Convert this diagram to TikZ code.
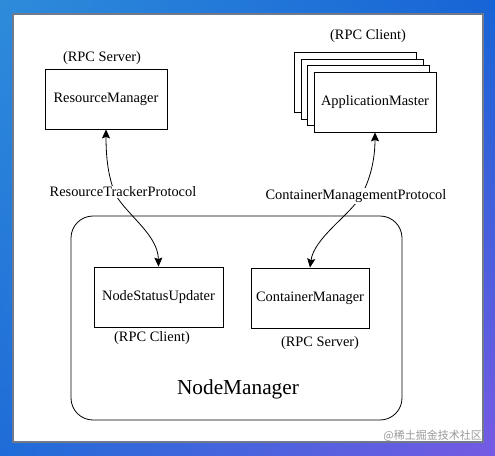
\documentclass[tikz,border=0pt]{standalone}
\usepackage{fontspec}
\setmainfont{Liberation Serif}
\newfontfamily\cjk{Noto Sans CJK SC}
\usetikzlibrary{arrows.meta,shadings}
\definecolor{bgtl}{RGB}{46,139,218}
\definecolor{bgtr}{RGB}{22,100,214}
\definecolor{bgbl}{RGB}{30,108,216}
\definecolor{bgbr}{RGB}{118,90,228}
\definecolor{panelrim}{RGB}{112,122,138}
\tikzset{
  boxnode/.style={draw=black, line width=0.8pt, fill=white, minimum height=60pt, inner sep=0pt,
    font=\fontsize{14.4}{17}\selectfont},
  lbl/.style={font=\fontsize{14.4}{17}\selectfont, inner sep=1pt},
  conn/.style={line width=0.8pt, {Stealth[length=9pt,width=8pt,inset=1.5pt]}-{Stealth[length=9pt,width=8pt,inset=1.5pt]}},
}
\begin{document}
\begin{tikzpicture}[x=1pt,y=-1pt]
\useasboundingbox (0,0) rectangle (495,455);
\shade[upper left=bgtl, upper right=bgtr, lower left=bgbl, lower right=bgbr] (0,0) rectangle (495,455);
\draw[draw=panelrim, line width=1.6pt, fill=white] (13,14) rectangle (483,442);
% NodeManager
\draw[line width=0.8pt, rounded corners=22pt] (71,216) rectangle (402,420);
\node[font=\fontsize{21.3}{25}\selectfont, inner sep=0pt] (nm) at (238,389) {NodeManager};
% ResourceManager
\node[boxnode, minimum width=122pt] (rm) at (106,99) {ResourceManager};
\node[lbl] (rmlab) at (102,58) {(RPC Server)};
% ApplicationMaster stack
\node[boxnode, minimum width=122pt] (am3) at (355.5,82.5) {};
\node[boxnode, minimum width=122pt] (am2) at (362,89) {};
\node[boxnode, minimum width=122pt] (am1) at (368.5,95.5) {};
\node[boxnode, minimum width=122pt] (am) at (375,102) {ApplicationMaster};
\node[lbl] (amlab) at (368,36) {(RPC Client)};
% inner boxes
\node[boxnode, minimum width=129pt] (nsu) at (158.5,297) {NodeStatusUpdater};
\node[lbl] (nsulab) at (152,338) {(RPC Client)};
\node[boxnode, minimum width=118pt] (cm) at (310,298) {ContainerManager};
\node[lbl] (cmlab) at (320,343) {(RPC Server)};
% connectors
\draw[conn] (rm.south) .. controls (106,165) and (110,180) .. (115,194)
  .. controls (128,216) and (158,235) .. (nsu.north);
\node[lbl, fill=white] (rtp) at (123,192) {ResourceTrackerProtocol};
\draw[conn] (cm.north) .. controls (314,238) and (350,215) .. (361,196)
  .. controls (370,180) and (375,160) .. (am.south);
\node[lbl, fill=white] (cmp) at (356,196) {ContainerManagementProtocol};
% watermark
\node[font=\cjk\fontsize{11}{13}\selectfont, text=black!40, inner sep=0pt, anchor=east] (wm) at (482,436) {@稀土掘金技术社区};
\end{tikzpicture}
\end{document}
